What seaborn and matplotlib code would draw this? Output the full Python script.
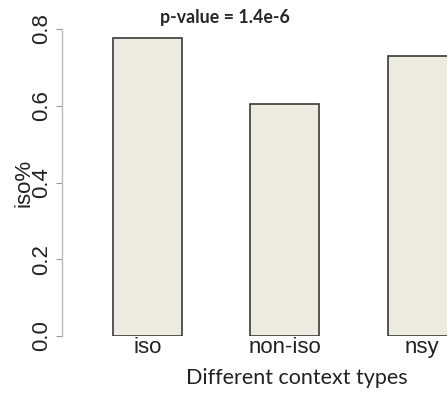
"""Bar chart of iso% by context type, with p-value annotation."""

import matplotlib

matplotlib.use("Agg")
import matplotlib.pyplot as plt
import pandas as pd
import seaborn as sns

context_types = ["iso", "non-iso", "nsy"]
iso_pct = [0.777, 0.605, 0.730]
y_ticks = [0.0, 0.2, 0.4, 0.6, 0.8]
p_value_text = "p-value = 1.4e-6"

df = pd.DataFrame({"context": context_types, "iso_pct": iso_pct})

sns.set_style("white")
plt.rcParams["font.family"] = ["Liberation Sans", "DejaVu Sans"]

fig = plt.figure(figsize=(4.47, 3.93), dpi=100)
ax = fig.add_axes([62 / 447, 57 / 393, 385 / 447, 307 / 393])

sns.barplot(
    data=df,
    x="context",
    y="iso_pct",
    color="#EBEBDF",
    saturation=1,
    width=0.5,
    edgecolor="#3a3a3a",
    linewidth=1.2,
    ax=ax,
)

ax.set_xlim(-0.62, 2.18)
ax.set_ylim(0, 0.8)

for side in ["top", "right", "bottom"]:
    ax.spines[side].set_visible(False)
ax.spines["left"].set_color("#BBBBBB")
ax.spines["left"].set_linewidth(1.0)
ax.spines["left"].set_bounds(0, 0.8)

ax.set_yticks(y_ticks)
ax.set_yticklabels([f"{v:.1f}" for v in y_ticks])
ax.tick_params(axis="y", left=True, direction="out", length=4, width=0.8,
               color="#999999", pad=3, labelsize=16, labelrotation=90,
               labelcolor="#222222")
for lab in ax.get_yticklabels():
    lab.set_va("center")
ax.tick_params(axis="x", bottom=False, length=0, pad=1, labelsize=16,
               labelcolor="#222222")

ax.set_ylabel("iso%", fontsize=16, color="#222222", va="center")
ax.yaxis.set_label_coords(-0.098, 0.5)
ax.set_xlabel("Different context types", fontsize=15.5, family="Lato",
              color="#222222", va="center")
ax.xaxis.set_label_coords(0.61, -0.137)

fig.text(225 / 447, 1 - 18 / 393, p_value_text, ha="center", va="center",
         fontsize=12.8, fontweight="bold", family="Lato")

fig.savefig("out.png", dpi=100)
